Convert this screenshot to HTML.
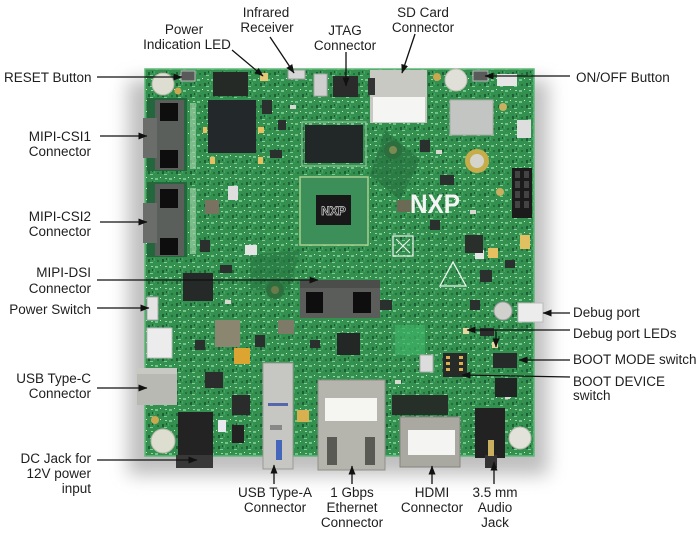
<!DOCTYPE html>
<html><head><meta charset="utf-8"><style>
html,body{margin:0;padding:0;background:#fff;}
svg{display:block;}
text{font-family:"Liberation Sans",Arial,sans-serif;font-size:13.5px;fill:#1e1e1e;}
</style></head><body>
<svg width="700" height="535" viewBox="0 0 700 535" xmlns="http://www.w3.org/2000/svg">
<defs>
<filter id="blur" x="-20%" y="-20%" width="140%" height="140%"><feGaussianBlur stdDeviation="9"/></filter>
<pattern id="tex" width="14" height="11" patternUnits="userSpaceOnUse">
<rect width="14" height="11" fill="#33904f"/>
<rect x="1" y="2" width="3" height="2" fill="#72c48c"/>
<rect x="8" y="6" width="2" height="3" fill="#1e5e36"/>
<rect x="6" y="1" width="1" height="1" fill="#cfe8d0"/>
<rect x="11" y="2" width="2" height="1" fill="#9ad6a8"/>
<rect x="3" y="7" width="2" height="2" fill="#25703e"/>
<rect x="10" y="9" width="3" height="1" fill="#7fcc96"/>
<rect x="0" y="5" width="1" height="3" fill="#3fa862"/>
<rect x="12" y="5" width="1" height="2" fill="#1f5a35"/>
</pattern>
<marker id="ah" markerWidth="9" markerHeight="7" refX="8.5" refY="3.5" orient="auto" markerUnits="userSpaceOnUse">
<path d="M0,0 L9,3.5 L0,7 z" fill="#111"/>
</marker>
</defs>

<!-- shadow -->
<rect x="128" y="80" width="420" height="395" fill="#8a8a8a" opacity="0.55" filter="url(#blur)"/>

<!-- board -->
<rect x="145" y="69" width="389" height="387" fill="url(#tex)"/>
<rect x="145" y="69" width="389" height="387" fill="none" stroke="#5fb878" stroke-width="1.5"/>

<!-- lighter zones / traces -->
<rect x="395" y="325" width="30" height="30" fill="#3fb266" opacity="0.7"/>
<path d="M385 130 L420 160 L400 200 L370 175 z" fill="#24703e" opacity="0.6"/>
<path d="M250 255 L300 250 L290 290 L250 290 z" fill="#24703e" opacity="0.5"/>
<circle cx="393" cy="150" r="9" fill="#2c6e3e"/><circle cx="393" cy="150" r="4" fill="#7a8a50"/>
<circle cx="275" cy="290" r="9" fill="#2c6e3e"/><circle cx="275" cy="290" r="4" fill="#6a7a48"/>

<!-- extra scattered parts for texture -->
<g fill="#2a302d">
<rect x="262" y="100" width="10" height="14" /><rect x="278" y="120" width="8" height="10"/><rect x="270" y="150" width="12" height="8"/>
<rect x="420" y="140" width="10" height="12"/><rect x="440" y="175" width="14" height="10"/><rect x="430" y="220" width="10" height="10"/>
<rect x="480" y="270" width="12" height="12"/><rect x="505" y="260" width="10" height="8"/><rect x="380" y="300" width="12" height="10"/>
<rect x="255" y="335" width="10" height="12"/><rect x="195" y="340" width="10" height="10"/><rect x="310" y="340" width="10" height="8"/>
<rect x="470" y="300" width="10" height="10"/><rect x="200" y="240" width="10" height="12"/><rect x="220" y="265" width="12" height="8"/>
</g>
<g fill="#d9d9d2">
<rect x="290" y="105" width="6" height="4"/><rect x="436" y="150" width="6" height="4"/><rect x="225" y="300" width="6" height="4"/>
<rect x="395" y="380" width="6" height="4"/><rect x="505" y="395" width="5" height="4"/><rect x="470" y="210" width="6" height="4"/>
</g>

<!-- mount holes -->
<circle cx="163" cy="84" r="11" fill="#ddddd2" stroke="#b7b7a8"/>
<circle cx="456" cy="80" r="11" fill="#e0e0d8" stroke="#bdbdb0"/>
<circle cx="163" cy="441" r="12" fill="#ddddd0" stroke="#b8b8a8"/>
<circle cx="520" cy="438" r="11" fill="#e2e2da" stroke="#bcbcb0"/>
<circle cx="178" cy="91" r="3.5" fill="#c9a850"/>
<circle cx="437" cy="77" r="4" fill="#c9a850"/>
<circle cx="155" cy="420" r="4" fill="#c9a850"/>
<circle cx="477" cy="161" r="12" fill="#c7ac4a"/><circle cx="477" cy="161" r="7" fill="#d4d4cc"/>

<!-- reset / on-off buttons -->
<rect x="181" y="71" width="14" height="10" fill="#5a5a5a" stroke="#bbb"/>
<rect x="473" y="71" width="15" height="10" fill="#5a5a5a" stroke="#bbb"/>

<!-- chips top-left -->
<rect x="213" y="72" width="35" height="24" fill="#252a27"/>
<rect x="208" y="100" width="48" height="53" fill="#23292a"/>
<rect x="203" y="127" width="4" height="6" fill="#e8c060"/>
<rect x="258" y="127" width="6" height="6" fill="#e8c060"/>
<rect x="210" y="157" width="5" height="7" fill="#e8c060"/>
<rect x="258" y="157" width="5" height="7" fill="#e8c060"/>
<rect x="260" y="73" width="8" height="8" fill="#e6c878"/>
<rect x="288" y="70" width="17" height="9" fill="#d6d6d6" stroke="#999"/>
<rect x="314" y="74" width="13" height="22" fill="#cfcfcf" stroke="#aaa"/>
<rect x="333" y="76" width="25" height="21" fill="#2b2b2b"/>

<!-- SD card -->
<rect x="370" y="70" width="57" height="53" fill="#c9c9c4"/>
<rect x="373" y="97" width="52" height="25" fill="#f5f5f3"/>
<rect x="368" y="78" width="7" height="17" fill="#333"/>

<!-- wifi module etc -->
<rect x="450" y="100" width="43" height="35" fill="#c3c5c2" stroke="#a8aaa6"/>
<rect x="497" y="74" width="20" height="12" fill="#e6e6e6"/>
<rect x="517" y="120" width="14" height="18" fill="#dedede"/>
<circle cx="503" cy="107" r="4" fill="#c8b060"/>
<circle cx="500" cy="192" r="4" fill="#c8b060"/>
<rect x="512" y="168" width="20" height="50" fill="#1b1b1b"/>
<g fill="#444"><rect x="515" y="171" width="5" height="7"/><rect x="524" y="171" width="5" height="7"/><rect x="515" y="181" width="5" height="7"/><rect x="524" y="181" width="5" height="7"/><rect x="515" y="191" width="5" height="7"/><rect x="524" y="191" width="5" height="7"/><rect x="515" y="201" width="5" height="7"/><rect x="524" y="201" width="5" height="7"/></g>

<!-- memory chip -->
<rect x="302" y="122" width="64" height="44" fill="none" stroke="#9acaa5"/>
<rect x="305" y="125" width="58" height="38" fill="#222827"/>

<!-- SoC -->
<rect x="300" y="177" width="68" height="68" fill="#3c8f58" stroke="#a9cf90" stroke-width="1.5"/>
<rect x="316" y="195" width="35" height="30" fill="#181818"/>
<text x="333.5" y="215" text-anchor="middle" style="font-size:12px;font-weight:bold;fill:#1a1a1a;stroke:#ccc;stroke-width:0.7">NXP</text>

<!-- NXP logo -->
<text x="410" y="213" textLength="50" lengthAdjust="spacingAndGlyphs" style="font-size:27px;font-weight:bold;fill:#f4f4f4">NXP</text>
<rect x="397" y="200" width="14" height="12" fill="#6a6a55"/>
<!-- recycle / warning -->
<rect x="393" y="236" width="20" height="20" fill="none" stroke="#e8f0e8" stroke-width="1.2"/>
<path d="M396 239 L410 253 M410 239 L396 253" stroke="#e8f0e8" stroke-width="1.2"/>
<path d="M453 262 L440 286 L466 286 z" fill="none" stroke="#eef4ee" stroke-width="1.3"/>
<rect x="488" y="248" width="10" height="10" fill="#e6c060"/>
<rect x="475" y="250" width="9" height="9" fill="#e4e4e4"/>
<rect x="465" y="235" width="18" height="18" fill="#2a2f2c"/>

<!-- MIPI-CSI1 -->
<rect x="147" y="98" width="40" height="73" fill="#24673c"/>
<rect x="155" y="100" width="29" height="70" fill="#5b5f5c"/>
<rect x="143" y="118" width="14" height="40" fill="#6a6d6a"/>
<rect x="160" y="103" width="18" height="18" fill="#0e0e0e"/>
<rect x="160" y="150" width="18" height="18" fill="#0e0e0e"/>
<rect x="190" y="103" width="6" height="66" fill="#9bd0a5" opacity="0.7"/>
<!-- MIPI-CSI2 -->
<rect x="147" y="182" width="40" height="75" fill="#24673c"/>
<rect x="155" y="184" width="29" height="72" fill="#5b5f5c"/>
<rect x="143" y="203" width="14" height="40" fill="#6a6d6a"/>
<rect x="160" y="189" width="18" height="19" fill="#0e0e0e"/>
<rect x="160" y="238" width="18" height="17" fill="#0e0e0e"/>
<rect x="190" y="188" width="6" height="66" fill="#9bd0a5" opacity="0.7"/>

<!-- misc left-middle parts -->
<rect x="183" y="273" width="30" height="28" fill="#252a28"/>
<rect x="215" y="320" width="25" height="27" fill="#8b8670"/>
<rect x="234" y="348" width="16" height="16" fill="#dca532"/>
<rect x="278" y="320" width="16" height="14" fill="#7d7a68"/>
<rect x="245" y="245" width="12" height="10" fill="#e4e4e4"/>
<rect x="205" y="200" width="14" height="14" fill="#7a7260"/>
<rect x="228" y="186" width="10" height="14" fill="#dedede"/>
<rect x="232" y="395" width="18" height="20" fill="#2a2c2b"/>
<rect x="218" y="420" width="8" height="12" fill="#e8e8f0"/>
<rect x="232" y="425" width="12" height="18" fill="#222"/>
<rect x="205" y="372" width="18" height="16" fill="#2a2d2c"/>
<rect x="297" y="410" width="12" height="12" fill="#d8b050"/>
<rect x="337" y="333" width="23" height="22" fill="#232826"/>

<!-- MIPI-DSI -->
<rect x="300" y="280" width="80" height="38" fill="#5a5d5a"/>
<rect x="306" y="292" width="17" height="21" fill="#0e0e0e"/>
<rect x="353" y="292" width="18" height="21" fill="#0e0e0e"/>
<rect x="300" y="280" width="80" height="8" fill="#4a4d4a"/>

<!-- left edge connectors -->
<rect x="147" y="297" width="11" height="23" fill="#e4e4e4" stroke="#aaa"/>
<rect x="147" y="328" width="25" height="30" fill="#ececec" stroke="#bbb"/>
<rect x="137" y="368" width="40" height="37" fill="#b9b9b4"/>
<rect x="137" y="368" width="40" height="6" fill="#c9c9c4"/>
<!-- DC jack -->
<rect x="178" y="412" width="35" height="44" fill="#232323"/>
<rect x="176" y="455" width="37" height="13" fill="#383838"/>
<!-- USB-A -->
<rect x="263" y="363" width="30" height="106" fill="#c6c6c2" stroke="#9a9a96"/>
<rect x="268" y="403" width="20" height="3" fill="#5566aa"/>
<rect x="270" y="425" width="12" height="5" fill="#888"/>
<rect x="276" y="440" width="6" height="20" fill="#4466bb"/>
<!-- Ethernet -->
<rect x="318" y="380" width="67" height="90" fill="#b5b5ae" stroke="#8f8f88"/>
<rect x="325" y="398" width="52" height="23" fill="#f5f5f2"/>
<rect x="327" y="437" width="10" height="28" fill="#5a5a55"/>
<rect x="365" y="437" width="10" height="28" fill="#5a5a55"/>
<!-- HDMI -->
<rect x="392" y="395" width="56" height="20" fill="#263029"/>
<rect x="400" y="417" width="60" height="50" fill="#a9a9a1" stroke="#85857e"/>
<rect x="408" y="430" width="47" height="25" fill="#f4f4f2"/>
<!-- Audio jack -->
<rect x="475" y="408" width="30" height="50" fill="#222"/>
<rect x="485" y="455" width="12" height="13" fill="#333"/>
<rect x="488" y="440" width="6" height="16" fill="#c8b060"/>

<!-- right side parts -->
<circle cx="503" cy="311" r="9" fill="#d0d0cc" stroke="#999"/>
<rect x="518" y="303" width="25" height="19" fill="#ececec" stroke="#bbb"/>
<rect x="443" y="353" width="24" height="24" fill="#262a28"/>
<g fill="#d8b050"><rect x="446" y="356" width="4" height="3"/><rect x="446" y="362" width="4" height="3"/><rect x="446" y="368" width="4" height="3"/><rect x="459" y="356" width="4" height="3"/><rect x="459" y="362" width="4" height="3"/><rect x="459" y="368" width="4" height="3"/></g>
<rect x="493" y="353" width="24" height="15" fill="#262a28"/>
<rect x="495" y="378" width="22" height="19" fill="#202422"/>
<rect x="420" y="355" width="13" height="17" fill="#dcdcdc" stroke="#aaa"/>
<rect x="463" y="328" width="6" height="6" fill="#e6d8a0"/>
<rect x="492" y="342" width="6" height="6" fill="#e6d8a0"/>
<rect x="480" y="328" width="14" height="8" fill="#2a2d2c"/>
<rect x="520" y="235" width="10" height="14" fill="#e0c060"/>

<!-- connectors (lines) -->
<g stroke="#111" stroke-width="1.3" fill="none" marker-end="url(#ah)">
<line x1="97" y1="77" x2="182" y2="77"/>
<line x1="232" y1="50" x2="263" y2="76"/>
<line x1="270" y1="37" x2="294" y2="73"/>
<line x1="346" y1="52" x2="346" y2="86"/>
<line x1="415" y1="34" x2="402" y2="73"/>
<line x1="570" y1="76" x2="485" y2="76"/>
<line x1="100" y1="136" x2="147" y2="136"/>
<line x1="100" y1="222" x2="147" y2="222"/>
<line x1="97" y1="280" x2="318" y2="280"/>
<line x1="97" y1="308" x2="149" y2="308"/>
<line x1="97" y1="388" x2="147" y2="388"/>
<line x1="97" y1="460" x2="197" y2="460"/>
<line x1="274" y1="484" x2="274" y2="465"/>
<line x1="352" y1="484" x2="352" y2="466"/>
<line x1="432" y1="484" x2="432" y2="466"/>
<line x1="494" y1="484" x2="494" y2="462"/>
<line x1="570" y1="313" x2="543" y2="313"/>
<line x1="570" y1="330" x2="467" y2="330"/>
<line x1="496" y1="330" x2="496" y2="347"/>
<line x1="570" y1="360" x2="519" y2="360"/>
<line x1="570" y1="377" x2="462" y2="375"/>
</g>

<!-- labels -->
<text x="4" y="82">RESET Button</text>
<g text-anchor="end">
<text x="91" y="141">MIPI-CSI1</text><text x="91" y="156">Connector</text>
<text x="91" y="221">MIPI-CSI2</text><text x="91" y="236">Connector</text>
<text x="91" y="277">MIPI-DSI</text><text x="91" y="293">Connector</text>
<text x="91" y="314">Power Switch</text>
<text x="91" y="383">USB Type-C</text><text x="91" y="398">Connector</text>
<text x="91" y="463">DC Jack for</text><text x="91" y="478">12V power</text><text x="91" y="493">input</text>
</g>
<g text-anchor="middle">
<text x="184" y="34">Power</text><text x="187" y="49">Indication LED</text>
<text x="266" y="17">Infrared</text><text x="267" y="32">Receiver</text>
<text x="345" y="35">JTAG</text><text x="345" y="50">Connector</text>
<text x="423" y="17">SD Card</text><text x="423" y="32">Connector</text>
<text x="275" y="497">USB Type-A</text><text x="275" y="512">Connector</text>
<text x="352" y="497">1 Gbps</text><text x="352" y="512">Ethernet</text><text x="352" y="527">Connector</text>
<text x="432" y="497">HDMI</text><text x="432" y="512">Connector</text>
<text x="495" y="497">3.5 mm</text><text x="495" y="512">Audio</text><text x="495" y="527">Jack</text>
</g>
<text x="576" y="82">ON/OFF Button</text>
<text x="573" y="317">Debug port</text>
<text x="573" y="338">Debug port LEDs</text>
<text x="573" y="364">BOOT MODE switch</text>
<text x="573" y="386">BOOT DEVICE</text>
<text x="573" y="400">switch</text>
</svg>
</body></html>
